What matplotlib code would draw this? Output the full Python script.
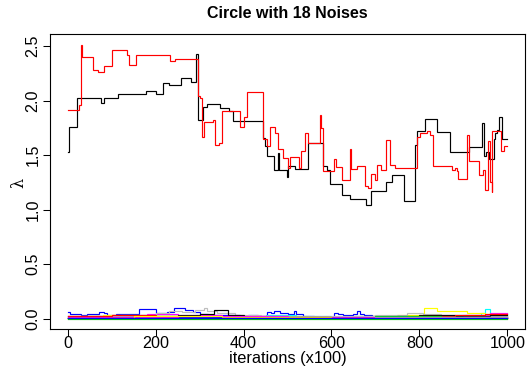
import matplotlib
matplotlib.use("Agg")
import matplotlib.pyplot as plt

# ---- data ----
black_iter = [0, 3, 22, 75, 83, 114, 178, 200, 217, 230,
              258, 280, 293, 296, 308, 317, 346, 366, 377, 445,
              449, 454, 469, 478, 481, 498, 500, 518, 546, 581,
              590, 596, 624, 643, 679, 690, 725, 738, 766, 789,
              795, 800, 812, 840, 870, 912, 942, 947, 952, 958,
              969, 972, 976, 982, 988, 1000]
black_val = [1.53, 1.76, 2.02, 1.98, 2.02, 2.06, 2.09, 2.06, 2.16, 2.14,
             2.21, 2.17, 2.43, 1.82, 1.94, 1.97, 1.93, 1.90, 1.81, 1.66,
             1.58, 1.49, 1.36, 1.52, 1.36, 1.30, 1.40, 1.37, 1.61, 1.40,
             1.36, 1.23, 1.13, 1.10, 1.04, 1.17, 1.25, 1.32, 1.08, 1.59,
             1.72, 1.72, 1.83, 1.71, 1.53, 1.57, 1.79, 1.49, 1.53, 1.46,
             1.65, 1.70, 1.73, 1.85, 1.65, 1.65]

red_iter = [0, 26, 31, 33, 58, 68, 83, 101, 136, 139,
            155, 233, 245, 296, 301, 306, 310, 331, 336, 344,
            351, 393, 402, 407, 445, 454, 460, 472, 478, 490,
            500, 505, 526, 531, 539, 547, 573, 576, 581, 606,
            611, 624, 642, 645, 657, 677, 683, 690, 700, 704,
            713, 723, 733, 745, 795, 802, 817, 823, 831, 874,
            880, 886, 888, 908, 912, 935, 945, 950, 955, 960,
            964, 966, 985, 993, 1000]
red_val = [1.91, 1.96, 2.51, 2.40, 2.28, 2.26, 2.32, 2.46, 2.42, 2.33,
           2.42, 2.36, 2.38, 2.04, 2.02, 1.67, 1.80, 1.82, 1.59, 1.61,
           1.90, 1.76, 1.85, 2.08, 1.65, 1.58, 1.76, 1.70, 1.56, 1.47,
           1.38, 1.48, 1.38, 1.54, 1.70, 1.61, 1.87, 1.75, 1.35, 1.46,
           1.39, 1.27, 1.56, 1.37, 1.40, 1.22, 1.20, 1.33, 1.27, 1.41,
           1.36, 1.64, 1.41, 1.38, 1.67, 1.70, 1.72, 1.68, 1.40, 1.36,
           1.38, 1.35, 1.28, 1.68, 1.45, 1.32, 1.36, 1.18, 1.63, 1.25,
           1.16, 1.72, 1.54, 1.58, 1.58]

# 18 noise variables (traces near zero)
noise3_iter = [0, 40, 90, 150, 220, 300, 400, 470, 540, 600, 650, 700, 760, 850, 920, 1000]
noise3_val = [0.01, 0.02, 0.012, 0.018, 0.01, 0.015, 0.006, 0.012, 0.005, 0.01, 0.022,
              0.012, 0.018, 0.025, 0.015, 0.012]
noise4_iter = [0, 5, 15, 30, 45, 60, 71, 82, 90, 110, 130, 150, 162, 175, 190, 200, 215,
               226, 241, 255, 268, 285, 300, 320, 345, 364, 393, 410, 432, 454, 462,
               469, 484, 500, 514, 520, 536, 560, 582, 605, 615, 627, 650, 658, 665,
               673, 692, 720, 750, 800, 850, 900, 950, 1000]
noise4_val = [0.065, 0.045, 0.04, 0.035, 0.045, 0.04, 0.058, 0.05, 0.03, 0.04, 0.045,
              0.04, 0.088, 0.085, 0.09, 0.05, 0.055, 0.06, 0.1, 0.095, 0.075, 0.06, 0.04,
              0.035, 0.03, 0.03, 0.025, 0.03, 0.02, 0.06, 0.055, 0.07, 0.05, 0.045, 0.072,
              0.04, 0.02, 0.015, 0.01, 0.052, 0.045, 0.037, 0.04, 0.073, 0.045, 0.03,
              0.024, 0.02, 0.02, 0.025, 0.02, 0.015, 0.02, 0.02]
noise5_iter = [0, 120, 200, 300, 380, 450, 520, 600, 700, 800, 880, 940, 950, 960, 980, 1000]
noise5_val = [0.02, 0.03, 0.02, 0.015, 0.025, 0.03, 0.02, 0.01, 0.015, 0.02, 0.03, 0.05,
              0.09, 0.04, 0.045, 0.04]
noise6_iter = [0, 50, 100, 180, 250, 300, 350, 420, 500, 600, 700, 800, 900, 960, 1000]
noise6_val = [0.02, 0.025, 0.03, 0.04, 0.02, 0.03, 0.015, 0.02, 0.01, 0.015, 0.02, 0.025,
              0.03, 0.05, 0.05]
noise7_iter = [0, 80, 150, 230, 300, 400, 500, 600, 680, 750, 810, 841, 877, 908, 950, 1000]
noise7_val = [0.02, 0.03, 0.02, 0.025, 0.01, 0.02, 0.015, 0.01, 0.02, 0.03, 0.098, 0.073,
              0.067, 0.052, 0.04, 0.04]
noise8_iter = [0, 100, 150, 200, 230, 260, 290, 310, 318, 340, 380, 440, 500, 600, 700, 772,
               809, 850, 900, 1000]
noise8_val = [0.02, 0.025, 0.03, 0.05, 0.07, 0.06, 0.08, 0.1, 0.07, 0.05, 0.03, 0.025,
              0.02, 0.02, 0.03, 0.05, 0.04, 0.03, 0.02, 0.02]
noise9_iter = [0, 100, 200, 250, 300, 333, 364, 400, 500, 600, 700, 750, 800, 880, 960, 1000]
noise9_val = [0.01, 0.015, 0.02, 0.03, 0.04, 0.075, 0.03, 0.015, 0.012, 0.01, 0.015, 0.02,
              0.03, 0.025, 0.035, 0.03]
noise10_iter = [0, 60, 100, 200, 300, 400, 500, 600, 700, 800, 880, 950, 1000]
noise10_val = [0.02, 0.025, 0.03, 0.02, 0.015, 0.01, 0.012, 0.01, 0.015, 0.02, 0.035, 0.04,
               0.04]
noise11_iter = [0, 200, 400, 600, 700, 850, 1000]
noise11_val = [0.005, 0.01, 0.008, 0.01, 0.02, 0.015, 0.01]
noise12_iter = [0, 150, 300, 500, 700, 1000]
noise12_val = [0.01, 0.012, 0.015, 0.01, 0.012, 0.01]
noise13_iter = [0, 250, 500, 750, 1000]
noise13_val = [0.008, 0.01, 0.012, 0.015, 0.012]
noise14_iter = [0, 250, 500, 700, 900, 1000]
noise14_val = [0.012, 0.02, 0.015, 0.01, 0.018, 0.01]
noise15_iter = [0, 150, 350, 600, 800, 1000]
noise15_val = [0.01, 0.02, 0.012, 0.008, 0.015, 0.008]
noise16_iter = [0, 400, 700, 1000]
noise16_val = [0.006, 0.01, 0.012, 0.01]
noise17_iter = [0, 300, 800, 1000]
noise17_val = [0.004, 0.008, 0.006, 0.006]
noise18_iter = [0, 500, 1000]
noise18_val = [0.005, 0.004, 0.004]
noise19_iter = [0, 1000]
noise19_val = [0.0, 0.0]
noise20_iter = [0, 1000]
noise20_val = [0.002, 0.002]

x_ticks = [0, 200, 400, 600, 800, 1000]
y_ticks = [0.0, 0.5, 1.0, 1.5, 2.0, 2.5]
y_ticklabels = ["0.0", "0.5", "1.0", "1.5", "2.0", "2.5"]

title = "Circle with 18 Noises"
xlabel = "iterations (x100)"
ylabel = "λ"

# R default palette, cycled like matplot
palette = ["#000000", "#FF0000", "#00CD00", "#0000FF", "#00FFFF", "#FF00FF",
           "#FFFF00", "#BEBEBE"]

series = [(black_iter, black_val), (red_iter, red_val),
          (noise3_iter, noise3_val), (noise4_iter, noise4_val),
          (noise5_iter, noise5_val), (noise6_iter, noise6_val),
          (noise7_iter, noise7_val), (noise8_iter, noise8_val),
          (noise9_iter, noise9_val), (noise10_iter, noise10_val),
          (noise11_iter, noise11_val), (noise12_iter, noise12_val),
          (noise13_iter, noise13_val), (noise14_iter, noise14_val),
          (noise15_iter, noise15_val), (noise16_iter, noise16_val),
          (noise17_iter, noise17_val), (noise18_iter, noise18_val),
          (noise19_iter, noise19_val), (noise20_iter, noise20_val)]

plt.rcParams['font.family'] = ['Liberation Sans', 'DejaVu Sans']

W, H = 528, 370
fig = plt.figure(figsize=(W / 100, H / 100), dpi=100)
ax = fig.add_axes([50 / W, 41 / H, 475 / W, 295 / H])

for i, (xs, ys) in enumerate(series):
    ax.plot(xs, ys, drawstyle='steps-post', color=palette[i % 8], lw=0.85,
            solid_joinstyle='miter')

ax.set_xlim(-40, 1040)
ax.set_ylim(-0.095, 2.61)
ax.set_xticks(x_ticks)
ax.set_yticks(y_ticks)
ax.set_yticklabels(y_ticklabels, rotation=90, va='center')
ax.tick_params(direction='out', length=5, width=0.75, labelsize=11.6, pad=2,
               colors='black')
ax.tick_params(axis='x', pad=0)
for s in ax.spines.values():
    s.set_linewidth(0.8)
    s.set_color('black')

fig.text(287.5 / W, 1 - 14 / H, title, ha='center', va='center',
         fontsize=11.5, fontweight='bold')
fig.text(288 / W, 1 - 358.5 / H, xlabel, ha='center', va='center', fontsize=11.8)
fig.text(19 / W, 1 - 183 / H, ylabel, ha='center', va='center', fontsize=11.5,
         rotation=90, family=['DejaVu Serif'])

fig.savefig("out.png", dpi=100)
